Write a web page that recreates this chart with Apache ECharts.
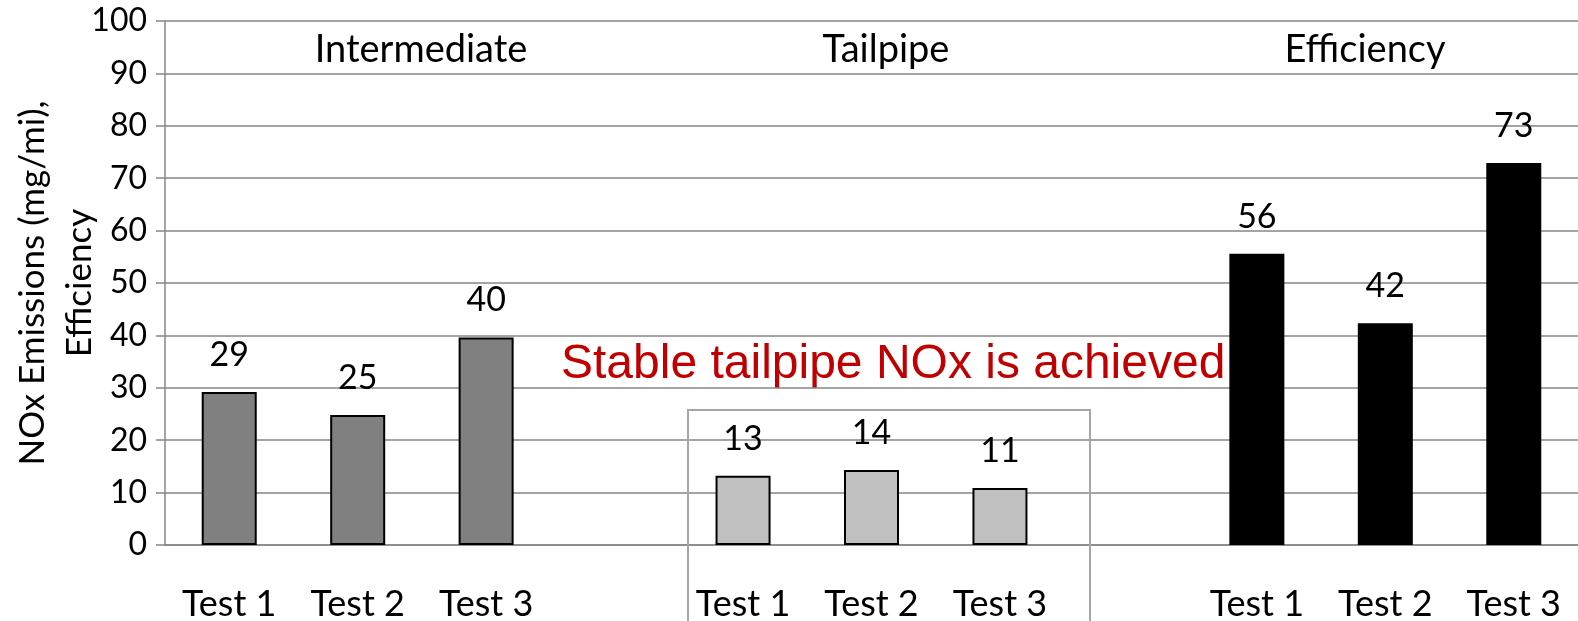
<!DOCTYPE html>
<html>
<head>
<meta charset="utf-8">
<script src="https://cdn.jsdelivr.net/npm/echarts@6/dist/echarts.min.js"></script>
<style>
  html, body { margin: 0; padding: 0; background: #fff; }
  #chart { width: 1578px; height: 621px; }
</style>
</head>
<body>
<div id="chart"></div>
<script>
// categories: three tests per group, blank spacer between groups
const categories = ['Test 1', 'Test 2', 'Test 3', '', 'Test 1', 'Test 2', 'Test 3', '', 'Test 1', 'Test 2', 'Test 3']
const intermediate = [29.2, 24.8, 39.6]
const tailpipe = [13.2, 14.3, 10.9]
const efficiency = [55.6, 42.3, 72.9]
const groupTitles = ['Intermediate', 'Tailpipe', 'Efficiency']
const yTicks = [0, 100, 10] // min, max, interval

// place a group of values onto the 11 category slots
function slot (values, start) {
  const arr = categories.map(() => null)
  values.forEach((v, i) => { arr[start + i] = v })
  return arr
}

function barSeries (name, data, fill, border) {
  return {
    name,
    type: 'bar',
    stack: 'all',
    barWidth: 55,
    itemStyle: {
      color: fill,
      borderColor: border,
      borderWidth: 2
    },
    label: {
      show: true,
      position: 'top',
      distance: 20,
      fontFamily: 'Lato',
      fontSize: 34,
      color: '#000',
      formatter: p => Math.round(p.value)
    },
    data
  }
}

// group title text, centred on x
function titleText (text, x) {
  return {
    type: 'text', x, y: 50,
    style: { text, font: '38px Lato', fill: '#000', align: 'center', verticalAlign: 'middle' }
  }
}

const font = 'Lato'
const option = {
  animation: false,
  grid: { left: 165, right: 0, top: 21, bottom: 76, outerBoundsMode: 'none', containLabel: false },
  xAxis: {
    type: 'category',
    data: categories,
    axisLine: { lineStyle: { color: '#868686', width: 1.5 } },
    axisTick: { length: 12, lineStyle: { color: '#868686', width: 1.5 } },
    axisLabel: { interval: 0, margin: 41, fontFamily: font, fontSize: 36, color: '#000' }
  },
  yAxis: {
    type: 'value',
    min: yTicks[0],
    max: yTicks[1],
    interval: yTicks[2],
    name: 'NOx Emissions (mg/mi),\nEfficiency',
    nameLocation: 'middle',
    nameRotate: 90,
    nameGap: 62,
    nameMoveOverlap: false,
    nameTextStyle: { fontFamily: font, fontSize: 35, color: '#000', lineHeight: 47 },
    axisLine: { show: true, lineStyle: { color: '#868686', width: 1.5 } },
    axisTick: { show: true, length: 9, lineStyle: { color: '#868686', width: 1.5 } },
    splitLine: { lineStyle: { color: '#868686', width: 1.5 } },
    axisLabel: { margin: 18, fontFamily: font, fontSize: 32, color: '#000' }
  },
  graphic: [
    {
      type: 'rect',
      shape: { x: 688, y: 410, width: 402, height: 240 },
      style: { fill: 'none', stroke: '#a6a6a6', lineWidth: 2 },
      z: 1
    },
    titleText(groupTitles[0], 421),
    titleText(groupTitles[1], 886),
    titleText(groupTitles[2], 1365),
    {
      type: 'text', left: 561, top: 341,
      style: { text: 'Stable tailpipe NOx is achieved', font: '48px "Liberation Sans"', fill: '#c00000' }
    }
  ],
  series: [
    barSeries('Intermediate', slot(intermediate, 0), '#808080', '#000'),
    barSeries('Tailpipe', slot(tailpipe, 4), '#c0c0c0', '#000'),
    barSeries('Efficiency', slot(efficiency, 8), '#000', '#000')
  ]
}

const chart = echarts.init(document.getElementById('chart'))
chart.setOption(option, true)
</script>
</body>
</html>
